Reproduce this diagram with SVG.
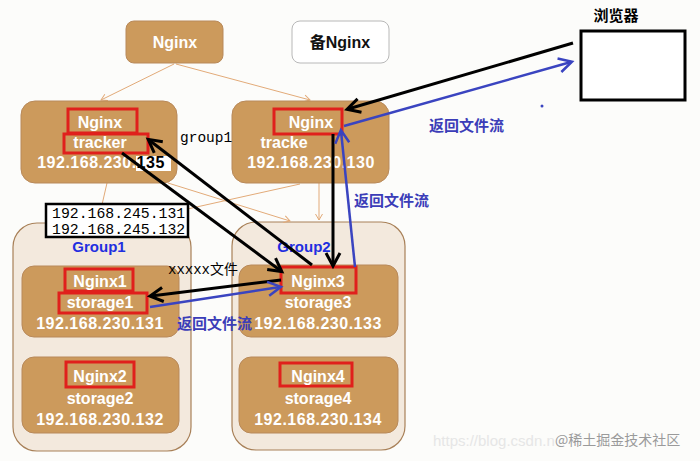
<svg xmlns="http://www.w3.org/2000/svg" width="700" height="461" viewBox="0 0 700 461">
<style>
.bg{fill:#fcfcfa}
.tan{fill:#cc9a5c;stroke:#b8895a;stroke-width:1}
.grp{fill:#f3e9dd;stroke:#a88058;stroke-width:1.2}
.red{fill:none;stroke:#e0201c;stroke-width:3}
.wt{font-family:"Liberation Sans",Arial,sans-serif;font-weight:bold;font-size:16px;fill:#ffffff;text-anchor:middle}
.ip{letter-spacing:0.5px}
.mono{font-family:"Liberation Mono","Noto Sans CJK SC",monospace;font-size:14.8px;fill:#000}
.blue{font-family:"Noto Sans CJK SC",sans-serif;font-size:15px;font-weight:bold;fill:#3b3db8}
.glab{font-family:"Liberation Sans",Arial,sans-serif;font-weight:bold;font-size:15px;fill:#1f2fe0;text-anchor:middle}
.or{stroke:#e2aa78;stroke-width:1;fill:none}
.bk{stroke:#000;stroke-width:3;fill:none}
.bl{stroke:#3a44c0;stroke-width:2.5;fill:none}
</style>
<defs>
<marker id="mbk" markerUnits="userSpaceOnUse" markerWidth="20" markerHeight="20" refX="15" refY="10" orient="auto" viewBox="0 0 20 20">
<path d="M3,3 L16,10 L3,17" fill="none" stroke="#000" stroke-width="3"/>
</marker>
<marker id="mbl" markerUnits="userSpaceOnUse" markerWidth="20" markerHeight="20" refX="15" refY="10" orient="auto" viewBox="0 0 20 20">
<path d="M3,3 L16,10 L3,17" fill="none" stroke="#3a44c0" stroke-width="2.5"/>
</marker>
<marker id="mor" markerUnits="userSpaceOnUse" markerWidth="10" markerHeight="10" refX="8" refY="5" orient="auto" viewBox="0 0 10 10">
<path d="M2,1.5 L8,5 L2,8.5" fill="none" stroke="#e2aa78" stroke-width="1"/>
</marker>
</defs>
<rect class="bg" x="0" y="0" width="700" height="461"/>

<g id="group1-container">
<rect class="grp" x="13" y="223" width="178" height="228" rx="24"/>
<text class="glab" x="99" y="252">Group1</text>
</g>
<g id="group2-container">
<rect class="grp" x="232" y="222" width="173" height="228" rx="24"/>
<text class="glab" x="304" y="252">Group2</text>
</g>

<g id="connectors-orange">
<line class="or" x1="174" y1="64" x2="101" y2="100" marker-end="url(#mor)"/>
<line class="or" x1="176" y1="64" x2="310" y2="100" marker-end="url(#mor)"/>
<line class="or" x1="107" y1="183" x2="98" y2="222" marker-end="url(#mor)"/>
<line class="or" x1="168" y1="183" x2="290" y2="221" marker-end="url(#mor)"/>
<line class="or" x1="300" y1="184" x2="138" y2="220" marker-end="url(#mor)"/>
<line class="or" x1="319" y1="183" x2="319" y2="220" marker-end="url(#mor)"/>
</g>

<g id="nginx-top">
<rect class="tan" x="126" y="21" width="97" height="42" rx="8"/>
<text class="wt" x="175" y="48">Nginx</text>
</g>
<g id="nginx-backup">
<rect x="292" y="21" width="97" height="42" rx="8" fill="#ffffff" stroke="#b8b8b8" stroke-width="1"/>
<text x="340" y="48" font-family="'Liberation Sans','Noto Sans CJK SC',sans-serif" font-weight="bold" font-size="16" fill="#111" text-anchor="middle">备Nginx</text>
</g>

<g id="tracker-left">
<rect class="tan" x="21" y="101" width="156" height="82" rx="14"/>
<rect class="red" x="68" y="109" width="69" height="24"/>
<rect class="red" x="64" y="134" width="84" height="19"/>
<text class="wt" x="100" y="128">Nginx</text>
<text class="wt" x="100" y="148">tracker</text>
<rect x="136" y="156" width="35" height="15" fill="#ffffff"/>
<text class="wt ip" x="101" y="168">192.168.230.<tspan fill="#000000">135</tspan></text>
</g>

<g id="tracker-right">
<rect class="tan" x="232" y="101" width="157" height="82" rx="14"/>
<rect class="red" x="274" y="109" width="68" height="25"/>
<text class="wt" x="311" y="128">Nginx</text>
<text class="wt" x="284" y="148" text-anchor="start">tracke</text>
<text class="wt ip" x="311" y="168">192.168.230.130</text>
</g>

<g id="browser">
<text x="616" y="21" font-family="'Noto Sans CJK SC',sans-serif" font-weight="bold" font-size="15" fill="#000" text-anchor="middle">浏览器</text>
<rect x="581" y="31" width="104" height="69" fill="#ffffff" stroke="#000" stroke-width="3"/>
</g>
<circle cx="542" cy="106" r="1.5" fill="#3a44c0"/>

<g id="ip-label">
<rect x="46" y="204" width="142" height="33" fill="#ffffff" stroke="#000" stroke-width="2.5"/>
<text class="mono" x="52" y="218">192.168.245.131</text>
<text class="mono" x="52" y="234">192.168.245.132</text>
</g>

<g id="storage1">
<rect class="tan" x="22" y="266" width="157" height="71" rx="12"/>
<rect class="red" x="65" y="269" width="68" height="22"/>
<rect class="red" x="59" y="293" width="88" height="20"/>
<text class="wt" x="100" y="287">Nginx1</text>
<text class="wt" x="100" y="308">storage1</text>
<text class="wt ip" x="100" y="329">192.168.230.131</text>
</g>
<g id="storage2">
<rect class="tan" x="22" y="357" width="157" height="76" rx="12"/>
<rect class="red" x="66" y="362" width="68" height="25"/>
<text class="wt" x="100" y="382">Nginx2</text>
<text class="wt" x="100" y="404">storage2</text>
<text class="wt ip" x="100" y="425">192.168.230.132</text>
</g>
<g id="storage3">
<rect class="tan" x="239" y="265" width="159" height="72" rx="12"/>
<rect class="red" x="281" y="267" width="75" height="26"/>
<text class="wt" x="318" y="287">Nginx3</text>
<text class="wt" x="318" y="308">storage3</text>
<text class="wt ip" x="318" y="329">192.168.230.133</text>
</g>
<g id="storage4">
<rect class="tan" x="239" y="357" width="159" height="76" rx="12"/>
<rect class="red" x="280" y="363" width="72" height="23"/>
<text class="wt" x="318" y="382">Nginx4</text>
<text class="wt" x="318" y="404">storage4</text>
<text class="wt ip" x="318" y="425">192.168.230.134</text>
</g>

<g id="connectors">
<line class="bk" x1="573" y1="43" x2="348" y2="109" marker-end="url(#mbk)"/>
<line class="bl" x1="344" y1="126" x2="571" y2="62" marker-end="url(#mbl)"/>
<line class="bk" x1="333" y1="134" x2="333" y2="265" marker-end="url(#mbk)"/>
<line class="bl" x1="355" y1="267" x2="341" y2="131" marker-end="url(#mbl)"/>
<line class="bk" x1="122" y1="153" x2="281" y2="271" marker-end="url(#mbk)"/>
<line class="bk" x1="312" y1="265" x2="149" y2="140" marker-end="url(#mbk)"/>
<line class="bk" x1="281" y1="280" x2="151" y2="296" marker-end="url(#mbk)"/>
<line class="bl" x1="150" y1="307" x2="280" y2="287" marker-end="url(#mbl)"/>
</g>

<g id="labels">
<text x="180" y="142" font-family="'Liberation Mono',monospace" font-size="14.5" fill="#000">group1</text>
<text x="168" y="274" font-family="'Liberation Mono','Noto Sans CJK SC',monospace" font-size="14" fill="#000">xxxxx文件</text>
<text class="blue" x="429" y="131">返回文件流</text>
<text class="blue" x="354" y="206">返回文件流</text>
<text class="blue" x="177" y="329">返回文件流</text>
</g>

<g id="watermark">
<text x="433" y="446" font-family="'Liberation Sans',sans-serif" font-size="15" fill="#e6e6e6">https://blog.csdn.n</text>
<text x="555" y="445" font-family="'Noto Sans CJK SC',sans-serif" font-size="14" fill="#9a9a9a">@稀土掘金技术社区</text>
</g>
</svg>
